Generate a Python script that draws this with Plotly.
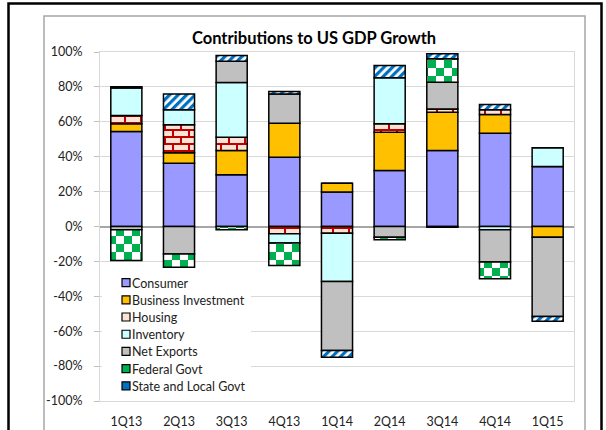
import plotly.graph_objects as go

# Share of US real GDP growth contributed by each component, in percent
quarters = ["1Q13", "2Q13", "3Q13", "4Q13", "1Q14", "2Q14", "3Q14", "4Q14", "1Q15"]
consumer = [54.4, 36.3, 29.6, 39.7, 19.7, 32.1, 43.6, 53.5, 34.4]
business_investment = [4.5, 5.9, 14.0, 19.5, 5.1, 21.9, 21.9, 10.7, -6.1]
housing = [4.7, 16.1, 7.6, -4.2, -3.8, 4.9, 1.9, 2.7, 0.0]
inventory = [15.7, 8.6, 31.3, -5.3, -27.7, 26.3, -0.5, -1.9, 10.7]
net_exports = [-1.9, -15.7, 12.2, 16.8, -39.6, -6.1, 15.3, -18.5, -45.5]
federal_govt = [-17.6, -7.6, -1.9, -12.8, 0.0, -1.5, 13.4, -9.6, 0.0]
state_local_govt = [0.8, 9.1, 3.3, 1.4, -3.8, 7.1, 2.9, 3.0, -2.7]

y_ticks = [-100, -80, -60, -40, -20, 0, 20, 40, 60, 80, 100]
y_tick_labels = [f"{v}%" for v in y_ticks]

FONT = "Lato, 'Open Sans', sans-serif"
W, H = 606, 430
L, R, T, B = 100, 32, 52, 29


def px_x(px):
    return (px - L) / (W - L - R)


def px_y(py):
    return (H - B - py) / (H - T - B)


# name, values, fill colour, pattern, uid, legend icon colour
series = [
    ("Consumer", consumer, "#9999FF", None, "consumer", "#9999FF"),
    ("Business Investment", business_investment, "#FFC000", None, "business", "#FFC000"),
    ("Housing", housing, "#FBE3D6",
     dict(shape="+", fgcolor="#C00000", bgcolor="#FBE3D6", size=7, solidity=0.25),
     "housing", "#FBE3D6"),
    ("Inventory", inventory, "#CCFFFF", None, "inventory", "#CCFFFF"),
    ("Net Exports", net_exports, "#C0C0C0", None, "netexports", "#C0C0C0"),
    ("Federal Govt", federal_govt, "#00B050",
     dict(shape="x", fgcolor="#00B050", bgcolor="#FFFFFF", size=8, solidity=0.4),
     "federal", "#00B050"),
    ("State and Local Govt", state_local_govt, "#0070C0",
     dict(shape="/", fgcolor="#0070C0", bgcolor="#FFFFFF", size=8, solidity=0.55),
     "statelocal", "#0070C0"),
]

fig = go.Figure()
for name, vals, color, pattern, uid, _ in series:
    marker = dict(color=color, line=dict(color="#000000", width=1.5))
    if pattern:
        marker["pattern"] = pattern
    fig.add_trace(go.Bar(x=quarters, y=vals, name=name, uid=uid, marker=marker,
                         showlegend=False, hoverinfo="skip"))

# small square legend keys
for name, _, _, _, uid, icon in series:
    fig.add_trace(go.Scatter(x=[None], y=[None], mode="markers", name=name,
                             marker=dict(symbol="square", size=8, color=icon,
                                         line=dict(color="#000000", width=1.2)),
                             showlegend=True))

fig.update_layout(
    width=W, height=H,
    margin=dict(l=L, r=R, t=T, b=B, autoexpand=False),
    barmode="relative",
    bargap=0.41,
    paper_bgcolor="#FFFFFF",
    plot_bgcolor="#FFFFFF",
    font=dict(family=FONT, size=12, color="#222222"),
    title=dict(text="<b>Contributions to US GDP Growth</b>",
               font=dict(family=FONT, size=16.5, color="#000000"),
               x=px_x(314), xref="paper", xanchor="center",
               y=1 - 38 / H, yref="container", yanchor="middle"),
    legend=dict(x=px_x(102), y=px_y(268), xanchor="left", yanchor="top",
                bgcolor="#FFFFFF", borderwidth=0,
                font=dict(family=FONT, size=12.5, color="#222222")),
    xaxis=dict(showgrid=False, showline=True, linecolor="#D9D9D9", linewidth=1,
               mirror=True, ticks="", ticklabelstandoff=9, automargin=False,
               tickfont=dict(size=12.5, color="#222222"), fixedrange=True),
    yaxis=dict(range=[-100, 100], tickvals=y_ticks, ticktext=y_tick_labels,
               showgrid=True, gridcolor="#D9D9D9", gridwidth=1,
               zeroline=True, zerolinecolor="#A6A6A6", zerolinewidth=2,
               showline=True, linecolor="#D9D9D9", linewidth=1, mirror=True,
               ticks="outside", ticklen=5, tickcolor="#BFBFBF",
               ticklabelstandoff=9, automargin=False,
               tickfont=dict(size=12.5, color="#222222"), fixedrange=True),
    shapes=[
        # grey chart-area frame
        dict(type="rect", xref="paper", yref="paper",
             x0=px_x(44), x1=px_x(585), y0=px_y(440), y1=px_y(16),
             line=dict(color="#A6A6A6", width=1.5), layer="below"),
        # black outer border
        dict(type="rect", xref="paper", yref="paper",
             x0=px_x(8.5), x1=px_x(601.5), y0=px_y(440), y1=px_y(3.5),
             line=dict(color="#000000", width=2.5), layer="below"),
    ],
)

# Checkerboard fill for federal spending, brick fill for housing,
# bold diagonal stripes for state and local spending,
# and a compact legend with keys set right next to their labels.
post_js = r"""
var gd = document.getElementById('{plot_id}');
var NS = 'http://www.w3.org/2000/svg';
function mk(attrs) {
  var e = document.createElementNS(NS, 'rect');
  for (var k in attrs) e.setAttribute(k, attrs[k]);
  return e;
}
function fillPattern(p, w, h, rects, transform) {
  while (p.firstChild) p.removeChild(p.firstChild);
  p.setAttribute('width', w);
  p.setAttribute('height', h);
  if (transform) p.setAttribute('patternTransform', transform);
  rects.forEach(function (r) { p.appendChild(mk(r)); });
}
function texture() {
  gd.querySelectorAll('pattern').forEach(function (p) {
    if (p.id.indexOf('federal') >= 0) {
      fillPattern(p, 16, 16, [
        {x: 0, y: 0, width: 16, height: 16, fill: '#FFFFFF'},
        {x: 0, y: 0, width: 8, height: 8, fill: '#00B050'},
        {x: 8, y: 8, width: 8, height: 8, fill: '#00B050'}
      ]);
    } else if (p.id.indexOf('housing') >= 0) {
      fillPattern(p, 16, 14, [
        {x: 0, y: 0, width: 16, height: 14, fill: '#FBE3D6'},
        {x: 0, y: 0, width: 16, height: 2, fill: '#C00000'},
        {x: 0, y: 7, width: 16, height: 2, fill: '#C00000'},
        {x: 0, y: 0, width: 2, height: 7, fill: '#C00000'},
        {x: 8, y: 7, width: 2, height: 7, fill: '#C00000'}
      ]);
    } else if (p.id.indexOf('statelocal') >= 0) {
      fillPattern(p, 6, 6, [
        {x: 0, y: 0, width: 6, height: 6, fill: '#FFFFFF'},
        {x: 0, y: 0, width: 3.2, height: 6, fill: '#0070C0'}
      ], 'rotate(45)');
    }
  });
}
var ROW = 17.2, TEXT_X = 30, KEY_DX = 4, TRIM_W = 10;
function compactLegend() {
  var items = gd.querySelectorAll('.legend .traces');
  if (!items.length) return;
  var m = /translate\(\s*([-\d.e]+)[\s,]+([-\d.e]+)\s*\)/.exec(items[0].getAttribute('transform') || '');
  if (!m) return;
  var x0 = parseFloat(m[1]), y0 = parseFloat(m[2]);
  items.forEach(function (g, i) {
    g.setAttribute('transform', 'translate(' + x0 + ',' + (y0 + i * ROW) + ')');
    var t = g.querySelector('text.legendtext');
    if (t) t.setAttribute('x', TEXT_X);
    var pts = g.querySelector('.legendpoints');
    if (pts) pts.setAttribute('transform', 'translate(' + KEY_DX + ',0)');
  });
  var bg = gd.querySelector('.legend rect.bg');
  if (bg) {
    if (!bg.dataset.w0) bg.dataset.w0 = bg.getAttribute('width');
    bg.setAttribute('width', parseFloat(bg.dataset.w0) - TRIM_W);
    bg.setAttribute('height', y0 + (items.length - 1) * ROW + 10);
  }
}
function decorate() { texture(); compactLegend(); }
decorate();
gd.on('plotly_afterplot', decorate);
"""

fig.write_html("out.html", post_script=post_js, config={"displayModeBar": False})
